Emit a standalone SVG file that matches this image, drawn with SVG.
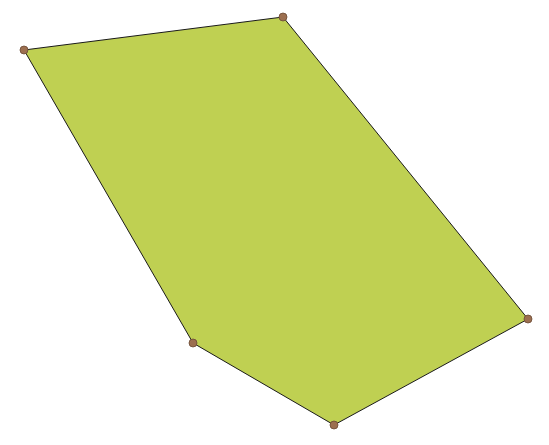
<svg xmlns="http://www.w3.org/2000/svg" width="549" height="445" viewBox="0 0 549 445">
<style>
.v{fill:#9c6f50;stroke:#6b4a35;stroke-width:0.8}
</style>
<rect width="549" height="445" fill="#ffffff"/>
<g id="shape">
<polygon points="24,50 283,17 528,319 334,425 193,343" fill="#bfd052" stroke="#1a1a1a" stroke-width="1" stroke-linejoin="round"/>
</g>
<g id="vertices">
<circle class="v" cx="24" cy="50" r="4"/>
<circle class="v" cx="283" cy="17" r="4"/>
<circle class="v" cx="528" cy="319" r="4"/>
<circle class="v" cx="334" cy="425" r="4"/>
<circle class="v" cx="193" cy="343" r="4"/>
</g>
</svg>
